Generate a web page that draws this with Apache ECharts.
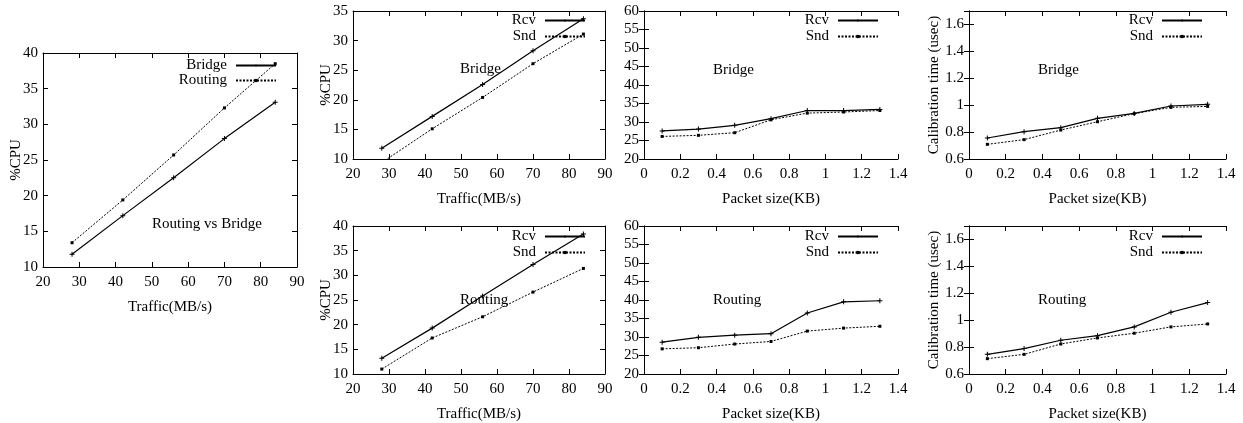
<!DOCTYPE html>
<html>
<head>
<meta charset="utf-8">
<script src="https://cdn.jsdelivr.net/npm/echarts@6/dist/echarts.min.js"></script>
<style>
  html, body { margin: 0; background: #fff; }
  #chart { width: 1243px; height: 423px; }
</style>
</head>
<body>
<div id="chart"></div>
<script>
// x values
const trafficX = [28, 42, 56, 70, 84]
const sizeX = [0.1, 0.3, 0.5, 0.7, 0.9, 1.1, 1.3]

// Routing vs Bridge (%CPU)
const cmpBridge = [11.8, 17.2, 22.5, 28.0, 33.1]
const cmpRouting = [13.4, 19.4, 25.7, 32.3, 38.5]

// %CPU vs traffic
const bridgeCpuRcv = [11.8, 17.2, 22.6, 28.3, 33.7]
const bridgeCpuSnd = [9.4, 15.1, 20.4, 26.1, 31.1]
const routingCpuRcv = [13.2, 19.3, 25.8, 32.2, 38.4]
const routingCpuSnd = [11.0, 17.3, 21.6, 26.6, 31.4]

// %CPU vs packet size
const bridgeSizeRcv = [27.6, 28.1, 29.1, 30.9, 33.1, 33.1, 33.4]
const bridgeSizeSnd = [26.1, 26.4, 27.1, 30.6, 32.4, 32.7, 33.1]
const routingSizeRcv = [28.6, 29.9, 30.5, 30.9, 36.5, 39.5, 39.8]
const routingSizeSnd = [26.8, 27.1, 28.1, 28.8, 31.6, 32.4, 32.9]

// calibration time vs packet size
const bridgeCalRcv = [0.756, 0.803, 0.833, 0.902, 0.939, 0.994, 1.006]
const bridgeCalSnd = [0.709, 0.744, 0.815, 0.877, 0.937, 0.984, 0.991]
const routingCalRcv = [0.746, 0.789, 0.851, 0.885, 0.95, 1.059, 1.131]
const routingCalSnd = [0.714, 0.746, 0.823, 0.868, 0.903, 0.95, 0.972]

const FONT = 'Liberation Serif'
const FS = 15
const PLUS = 'path://M2,0H3V2H5V3H3V5H2V3H0V2H2Z'

const trafficAxis = [20, 90, 10]
const sizeAxis = [0, 1.4, 0.2]

const panels = [
  { grid: { left: 43, top: 53, width: 254, height: 214 }, x: trafficAxis, y: [10, 40, 5],
    xName: 'Traffic(MB/s)', yName: '%CPU', yGap: 19, xs: trafficX,
    series: [['Bridge', cmpBridge], ['Routing', cmpRouting]],
    note: ['Routing vs Bridge', 152, 226], legend: { right: 966, top: 58, gap: 0 } },
  { grid: { left: 353, top: 11, width: 252, height: 148 }, x: trafficAxis, y: [10, 35, 5],
    xName: 'Traffic(MB/s)', yName: '%CPU', yGap: 19, xs: trafficX,
    series: [['Rcv', bridgeCpuRcv], ['Snd', bridgeCpuSnd]],
    note: ['Bridge', 460, 71], legend: { right: 657, top: 13, gap: 1 } },
  { grid: { left: 353, top: 226, width: 252, height: 148 }, x: trafficAxis, y: [10, 40, 5],
    xName: 'Traffic(MB/s)', yName: '%CPU', yGap: 19, xs: trafficX,
    series: [['Rcv', routingCpuRcv], ['Snd', routingCpuSnd]],
    note: ['Routing', 460, 302], legend: { right: 657, top: 229, gap: 1 } },
  { grid: { left: 644, top: 11, width: 254, height: 148 }, x: sizeAxis, y: [20, 60, 5],
    xName: 'Packet size(KB)', yName: '', xs: sizeX,
    series: [['Rcv', bridgeSizeRcv], ['Snd', bridgeSizeSnd]],
    note: ['Bridge', 713, 72], legend: { right: 364, top: 13, gap: 1 } },
  { grid: { left: 644, top: 226, width: 254, height: 148 }, x: sizeAxis, y: [20, 60, 5],
    xName: 'Packet size(KB)', yName: '', xs: sizeX,
    series: [['Rcv', routingSizeRcv], ['Snd', routingSizeSnd]],
    note: ['Routing', 713, 302], legend: { right: 364, top: 229, gap: 1 } },
  { grid: { left: 969, top: 11, width: 257, height: 148 }, x: sizeAxis, y: [0.6, 1.7, 0.2],
    xName: 'Packet size(KB)', yName: 'Calibration time (usec)', yGap: 27, xs: sizeX,
    series: [['Rcv', bridgeCalRcv], ['Snd', bridgeCalSnd]],
    note: ['Bridge', 1038, 72], legend: { right: 40, top: 13, gap: 1 } },
  { grid: { left: 969, top: 226, width: 257, height: 148 }, x: sizeAxis, y: [0.6, 1.7, 0.2],
    xName: 'Packet size(KB)', yName: 'Calibration time (usec)', yGap: 27, xs: sizeX,
    series: [['Rcv', routingCalRcv], ['Snd', routingCalSnd]],
    note: ['Routing', 1038, 302], legend: { right: 40, top: 229, gap: 1 } },
]

const txt = { fontFamily: FONT, fontSize: FS, color: '#000' }
const line = { lineStyle: { color: '#000', width: 1 } }
const tick = { inside: true, length: 5, lineStyle: { color: '#000', width: 1 } }

const grid = []
const xAxis = []
const yAxis = []
const series = []
const legend = []
const graphic = []

panels.forEach((p, gi) => {
  grid.push(p.grid)
  const [xmin, xmax, xint] = p.x
  const [ymin, ymax, yint] = p.y
  // bottom / left axes with labels
  xAxis.push({
    type: 'value', gridIndex: gi, position: 'bottom', min: xmin, max: xmax, interval: xint,
    name: p.xName, nameLocation: 'middle', nameGap: 33, nameTextStyle: txt,
    axisLine: line, axisTick: tick, splitLine: { show: false },
    axisLabel: { ...txt, margin: 8 },
  })
  yAxis.push({
    type: 'value', gridIndex: gi, position: 'left', min: ymin, max: ymax, interval: yint,
    name: p.yName, nameLocation: 'middle', nameGap: p.yGap || 20, nameRotate: 90, nameTextStyle: txt,
    nameMoveOverlap: false,
    axisLine: line, axisTick: tick, splitLine: { show: false },
    axisLabel: { ...txt, margin: 5, showMaxLabel: ymax % yint < 1e-9 || Math.abs(ymax % yint - yint) < 1e-9 },
  })
  // mirror axes (top / right) for the box and mirrored ticks
  xAxis.push({
    type: 'value', gridIndex: gi, position: 'top', min: xmin, max: xmax, interval: xint,
    axisLine: line, axisTick: tick, axisLabel: { show: false }, splitLine: { show: false },
  })
  yAxis.push({
    type: 'value', gridIndex: gi, position: 'right', min: ymin, max: ymax, interval: yint,
    axisLine: line, axisTick: tick, axisLabel: { show: false }, splitLine: { show: false },
  })

  p.series.forEach(([name, ys], si) => {
    series.push({
      type: 'line', name, xAxisIndex: gi * 2, yAxisIndex: gi * 2,
      data: p.xs.map((x, i) => [x, ys[i]]),
      clip: true, animation: false,
      symbol: si === 0 ? PLUS : 'rect',
      symbolSize: si === 0 ? 5 : 3,
      itemStyle: { color: '#000' },
      lineStyle: si === 0
        ? { color: '#000', width: 1.2, type: 'solid' }
        : { color: '#000', width: 1, type: [2, 1.5] },
    })
  })

  legend.push({
    data: p.series.map(s => s[0]),
    orient: 'vertical', align: 'right',
    right: p.legend.right, top: p.legend.top,
    itemWidth: 40, itemHeight: 4, itemGap: p.legend.gap,
    selectedMode: false, padding: 0,
    textStyle: { ...txt, padding: [0, 4, 0, 0] },
  })

  graphic.push({
    type: 'text', left: p.note[1], top: p.note[2] - 9,
    style: { text: p.note[0], font: `${FS}px "${FONT}"`, fill: '#000' },
  })
})

const chart = echarts.init(document.getElementById('chart'))
chart.setOption({
  backgroundColor: '#fff',
  animation: false,
  grid, xAxis, yAxis, series, legend, graphic,
})
</script>
</body>
</html>
